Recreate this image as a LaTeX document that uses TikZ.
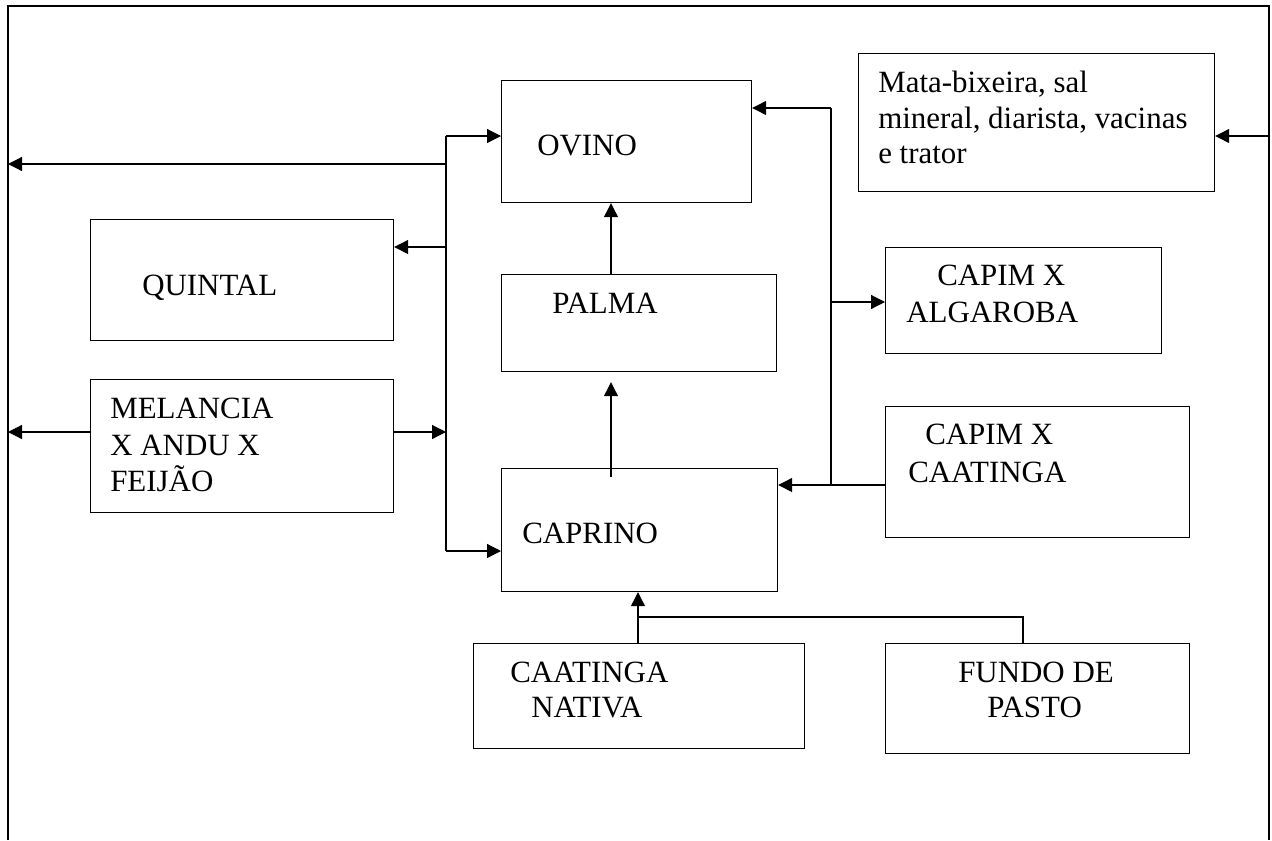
\documentclass[tikz,border=0pt]{standalone}
\usepackage{fontspec}
\setmainfont{Liberation Serif}
\usetikzlibrary{arrows.meta}

\tikzset{
  box/.style={draw, line width=0.9pt, inner sep=0pt, anchor=north west},
  txt/.style={anchor=base west, inner sep=0pt, font=\fontsize{23.2}{27}\selectfont},
  link/.style={line width=0.9pt},
  arr/.style={link, -{Triangle[length=10.5pt,width=10.5pt]}},
}

% place a box by its corners (x1,y1) and (x2,y2), in pixel units
\newcommand{\boxat}[5]{%
  \pgfmathsetmacro{\bw}{(#4-#2)*0.75}%
  \pgfmathsetmacro{\bh}{(#5-#3)*0.75}%
  \node[box, minimum width=\bw pt, minimum height=\bh pt] (#1) at (#2,#3) {};%
}

\begin{document}
\begin{tikzpicture}[x=0.75pt, y=-0.75pt]
\useasboundingbox (0,0) rectangle (1272,840);

% outer frame (open at the bottom)
\coordinate (fbl) at (8,840);
\coordinate (ftl) at (8,6);
\coordinate (ftr) at (1269,6);
\coordinate (fbr) at (1269,840);
\draw[link] (fbl) -- (ftl) -- (ftr) -- (fbr);

% boxes
\boxat{ovino}{501}{80}{751}{202}
\boxat{quintal}{90}{219}{393}{340}
\boxat{melancia}{90}{379}{393}{512}
\boxat{palma}{501}{274}{776}{371}
\boxat{caprino}{501}{468}{777}{591}
\boxat{nativa}{473}{643}{804}{748}
\boxat{fundo}{885}{643}{1189}{753}
\boxat{algaroba}{885}{247}{1161}{353}
\boxat{capcaat}{885}{406}{1189}{537}
\boxat{mata}{858}{53}{1214}{191}

% box texts
\node[txt] (tovino) at (537,155) {OVINO};
\node[txt] (tquintal) at (142,295) {QUINTAL};
\node[txt] (tpalma) at (552,313) {PALMA};
\node[txt] (tmel1) at (110,418) {MELANCIA};
\node[txt] (tmel2) at (110,455) {X ANDU X};
\node[txt] (tmel3) at (110,491) {FEIJÃO};
\node[txt] (tcaprino) at (522,543) {CAPRINO};
\node[txt] (tnat1) at (510,682) {CAATINGA};
\node[txt] (tnat2) at (531,717) {NATIVA};
\node[txt] (tfun1) at (958,682) {FUNDO DE};
\node[txt] (tfun2) at (987,717) {PASTO};
\node[txt] (talg1) at (937,285) {CAPIM X};
\node[txt] (talg2) at (906,322) {ALGAROBA};
\node[txt] (tcc1) at (925,444) {CAPIM X};
\node[txt] (tcc2) at (908,482) {CAATINGA};
\node[txt] (tmata1) at (878,92) {Mata-bixeira, sal};
\node[txt] (tmata2) at (878,128) {mineral, diarista, vacinas};
\node[txt] (tmata3) at (878,163) {e trator};

% left distribution bus
\coordinate (busA) at (446,136);
\coordinate (busB) at (446,164);
\coordinate (busC) at (446,247);
\coordinate (busD) at (446,432);
\coordinate (busE) at (446,551);
\draw[link] (busA) -- (busE);
\draw[arr] (busA) -- (busA -| ovino.west);
\draw[arr] (busB) -- (busB -| ftl);
\draw[arr] (busC) -- (busC -| quintal.east);
\draw[arr] (busD -| melancia.east) -- (busD);
\draw[arr] (busD -| melancia.west) -- (busD -| ftl);
\draw[arr] (busE) -- (busE -| caprino.west);

% right feed line
\coordinate (rA) at (831,108);
\coordinate (rB) at (831,302);
\coordinate (rC) at (831,485);
\draw[link] (rA) -- (rC);
\draw[arr] (rA) -- (rA -| ovino.east);
\draw[arr] (rB) -- (rB -| algaroba.west);
\draw[arr] (rC -| capcaat.west) -- (rC -| caprino.east);

% inputs from the frame
\coordinate (mIn) at (1269,136);
\draw[arr] (mIn) -- (mIn -| mata.east);

% central column
\coordinate (cx) at (611,0);
\draw[arr] (cx |- palma.north) -- (cx |- ovino.south);
\draw[arr] ([yshift=-6.75pt]cx |- caprino.north) -- ([yshift=-7.5pt]cx |- palma.south);

% bottom sources
\coordinate (jn) at (638,617);
\coordinate (jf) at (1023,617);
\draw[arr] (jn |- nativa.north) -- (jn |- caprino.south);
\draw[link] (jn) -- (jf) -- (jf |- fundo.north);
\end{tikzpicture}
\end{document}
